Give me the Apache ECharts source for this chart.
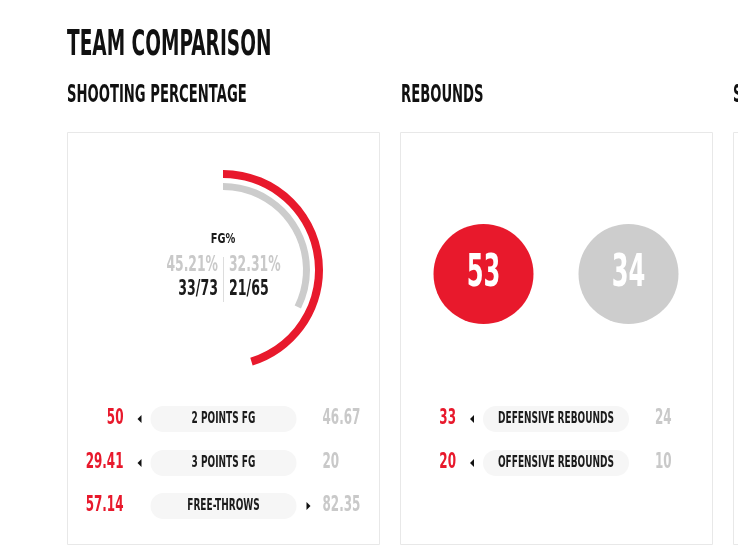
<!DOCTYPE html>
<html>
<head>
<meta charset="utf-8">
<script src="https://cdn.jsdelivr.net/npm/echarts@6/dist/echarts.min.js"></script>
<style>
html,body{margin:0;padding:0;background:#fff;}
#chart{width:738px;height:554px;}
</style>
</head>
<body>
<div id="chart"></div>
<script>
// ---- data ----
const teams = ['HOME', 'AWAY'];
const fgPct = [45.21, 32.31];
const fgMade = [33, 21];
const fgAtt = [73, 65];
const shootCats = ['2 POINTS FG', '3 POINTS FG', 'FREE-THROWS'];
const shootHome = [50, 29.41, 57.14];
const shootAway = [46.67, 20, 82.35];
const rebTotal = [53, 34];
const rebCats = ['DEFENSIVE REBOUNDS', 'OFFENSIVE REBOUNDS'];
const rebHome = [33, 20];
const rebAway = [24, 10];
const titles = ['TEAM COMPARISON', 'SHOOTING PERCENTAGE', 'REBOUNDS', 'S'];

// ---- style ----
const RED = '#e8192c';
const GREY = '#cccccc';
const GREYTXT = '#c9c9c9';
const DARK = '#1b1b1b';
const FONT = '"DejaVu Sans",sans-serif';

function txt(text, x, y, size, color, align, sx) {
  return {
    type: 'text', x: x, y: y, scaleX: sx, scaleY: 1, z: 10,
    style: {
      text: String(text), fill: color, fontSize: size, fontFamily: FONT, fontWeight: 'bold',
      align: align, textAlign: align, verticalAlign: 'middle', textVerticalAlign: 'middle'
    }
  };
}
function tri(x, y, dir) {
  const pts = dir < 0 ? [[x, y], [x + 4, y - 4], [x + 4, y + 4]] : [[x + 4, y], [x, y - 4], [x, y + 4]];
  return { type: 'polygon', z: 10, shape: { points: pts }, style: { fill: '#111' } };
}
function statRows(cats, home, away, cx, ys) {
  const els = [];
  cats.forEach((c, i) => {
    const y = ys[i];
    const pl = cx - 73, pr = cx + 73;
    els.push({ type: 'rect', z: 5, shape: { x: pl, y: y - 13, width: 146, height: 26, r: 13 }, style: { fill: '#f6f6f6' } });
    els.push(txt(c, cx, y, 15, DARK, 'center', 0.6));
    els.push(txt(home[i], pl - 27, y, 21, RED, 'right', 0.57));
    els.push(txt(away[i], pr + 26, y, 21, GREYTXT, 'left', 0.57));
    if (home[i] >= away[i]) els.push(tri(pl - 13, y, -1));
    else els.push(tri(pr + 10, y, 1));
  });
  return els;
}

function gauge(value, radius, width, color) {
  return {
    type: 'gauge', center: [223, 270], radius: radius, startAngle: 90, endAngle: -270,
    clockwise: true, min: 0, max: 100,
    progress: { show: true, width: width, roundCap: false, itemStyle: { color: color } },
    axisLine: { show: false }, axisTick: { show: false }, splitLine: { show: false },
    axisLabel: { show: false }, pointer: { show: false }, anchor: { show: false },
    title: { show: false }, detail: { show: false },
    data: [{ value: value }]
  };
}

const chart = echarts.init(document.getElementById('chart'), null, { renderer: 'canvas' });
chart.setOption({
  animation: false,
  backgroundColor: '#ffffff',
  grid: { left: 411, width: 290, top: 224, height: 100 },
  xAxis: { type: 'category', data: teams, show: false },
  yAxis: { type: 'category', data: ['REB'], show: false },
  series: [
    gauge(fgPct[0], 100, 8, RED),
    gauge(fgPct[1], 87, 7, GREY),
    {
      type: 'scatter', symbolSize: 100,
      data: rebTotal.map((v, i) => ({ value: [i, 0, v], itemStyle: { color: i === 0 ? RED : '#cdcdcd', opacity: 1 } })),
      label: { show: false }
    }
  ]
});

const graphic = [];
// cards
graphic.push({ type: 'rect', shape: { x: 67.5, y: 132.5, width: 312, height: 412 }, style: { fill: 'none', stroke: '#e8e8e8', lineWidth: 1 } });
graphic.push({ type: 'rect', shape: { x: 400.5, y: 132.5, width: 312, height: 412 }, style: { fill: 'none', stroke: '#e8e8e8', lineWidth: 1 } });
graphic.push({ type: 'rect', shape: { x: 733.5, y: 132.5, width: 312, height: 412 }, style: { fill: 'none', stroke: '#e8e8e8', lineWidth: 1 } });
// titles
graphic.push(txt(titles[0], 67, 46, 36, '#111', 'left', 0.515));
graphic.push(txt(titles[1], 67, 95, 25, '#111', 'left', 0.527));
graphic.push(txt(titles[2], 401, 95, 25, '#111', 'left', 0.527));
graphic.push(txt(titles[3], 733, 95, 25, '#111', 'left', 0.527));
// gauge centre text
graphic.push(txt('FG%', 223, 239, 14, DARK, 'center', 0.7));
graphic.push(txt(fgPct[0].toFixed(2) + '%', 218, 266, 21, GREYTXT, 'right', 0.59));
graphic.push(txt(fgPct[1].toFixed(2) + '%', 229, 266, 21, GREYTXT, 'left', 0.59));
graphic.push(txt(fgMade[0] + '/' + fgAtt[0], 218, 290, 21, DARK, 'right', 0.6));
graphic.push(txt(fgMade[1] + '/' + fgAtt[1], 229, 290, 21, DARK, 'left', 0.6));
graphic.push({ type: 'line', shape: { x1: 223.5, y1: 257, x2: 223.5, y2: 302 }, style: { stroke: '#dddddd', lineWidth: 1 } });
// rows
statRows(shootCats, shootHome, shootAway, 223.5, [419, 463, 506]).forEach(e => graphic.push(e));
statRows(rebCats, rebHome, rebAway, 556, [419, 463]).forEach(e => graphic.push(e));
// circle numbers placed at the scatter points
rebTotal.forEach((v, i) => {
  const p = chart.convertToPixel({ gridIndex: 0 }, [i, 0]);
  graphic.push(txt(v, p[0], p[1] + 1, 44, '#ffffff', 'center', 0.55));
});

chart.setOption({ graphic: graphic });
</script>
</body>
</html>
